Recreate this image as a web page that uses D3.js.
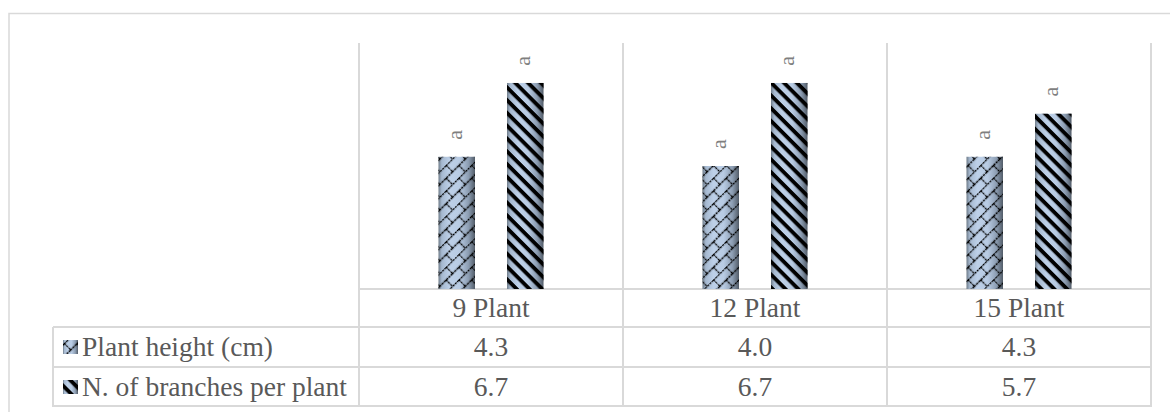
<!DOCTYPE html>
<html>
<head>
<meta charset="utf-8">
<script src="https://cdn.jsdelivr.net/npm/d3@7"></script>
<style>
  html, body { margin: 0; padding: 0; background: #fff; }
  svg { display: block; }
  svg text { font-family: "Liberation Serif", "Times New Roman", "DejaVu Serif", serif; }
</style>
</head>
<body>
<svg id="chart" width="1170" height="412"></svg>
<script>
// Planting density treatments and their measured means
const categories = ["9 Plant", "12 Plant", "15 Plant"];
const seriesNames = ["Plant height (cm)", "N. of branches per plant"];
const plantHeight = [4.3, 4.0, 4.3];
const branchesPerPlant = [6.7, 6.7, 5.7];
const valueLabels = ["4.3", "4.0", "4.3"];
const branchLabels = ["6.7", "6.7", "5.7"];
const significance = [["a", "a", "a"], ["a", "a", "a"]];
const yDomain = [0, 8];

const seriesValues = [plantHeight, branchesPerPlant];
const seriesText = [valueLabels, branchLabels];

const svg = d3.select("#chart");
const gridColor = "#d9d9d9";
const textColor = "#595959";

// Layout of plot area and data table
const plotLeft = 359, plotRight = 1151, plotTop = 43, plotBottom = 289;
const rowLines = [289, 327, 367, 406];
const legendLeft = 53;

const x0 = d3.scaleBand().domain(categories).range([plotLeft, plotRight]).paddingInner(0).paddingOuter(0);
const x1 = d3.scaleBand().domain(seriesNames).range([0, x0.bandwidth()]).paddingInner(0.467).paddingOuter(1.16);
const y = d3.scaleLinear().domain(yDomain).range([plotBottom, plotTop]);

// ---- Fills: shaded cylinder-like gradient plus black hatch overlays
const defs = svg.append("defs");
const grad = defs.append("linearGradient").attr("id", "barShade")
  .attr("x1", "0%").attr("x2", "100%").attr("y1", "0%").attr("y2", "0%");
[["0%", "#6f7c89"], ["9%", "#a5b8cf"], ["30%", "#bdd0e8"], ["58%", "#b8cbe3"], ["82%", "#8c9db2"], ["100%", "#525c68"]]
  .forEach(([o, c]) => grad.append("stop").attr("offset", o).attr("stop-color", c));

// Diagonal brick hatch
const brick = defs.append("pattern").attr("id", "brick")
  .attr("patternUnits", "userSpaceOnUse")
  .attr("width", 18).attr("height", 18)
  .attr("patternTransform", "rotate(-45)");
brick.append("path")
  .attr("d", "M0,0.5 H18 M0,9.5 H18 M0.5,0 V9 M9.5,9 V18")
  .attr("stroke", "#000").attr("stroke-width", 1.4)
  .attr("stroke-dasharray", "2.4,0.8").attr("fill", "none");

// Wide downward diagonal hatch
const stripe = defs.append("pattern").attr("id", "stripe")
  .attr("patternUnits", "userSpaceOnUse")
  .attr("width", 9.05).attr("height", 9.05)
  .attr("patternTransform", "rotate(45)");
stripe.append("rect").attr("x", 0).attr("y", 0).attr("width", 9.05).attr("height", 3.9).attr("fill", "#000");

const hatchIds = ["brick", "stripe"];

// ---- Outer chart border
svg.append("rect").attr("x", 9).attr("y", 13.5).attr("width", 1300).attr("height", 600)
  .attr("fill", "none").attr("stroke", gridColor).attr("stroke-width", 1.5);

// ---- Category gridlines (vertical cell dividers spanning plot + table)
const dividers = [plotLeft, ...categories.map(c => x0(c) + x0.bandwidth())];
svg.append("g").selectAll("line").data(dividers).join("line")
  .attr("x1", d => d).attr("x2", d => d)
  .attr("y1", plotTop).attr("y2", rowLines[3] + 1)
  .attr("stroke", gridColor).attr("stroke-width", 2);

// ---- Table horizontal lines
svg.append("g").selectAll("line").data(rowLines).join("line")
  .attr("x1", (d, i) => i === 0 ? plotLeft : legendLeft)
  .attr("x2", plotRight + 1)
  .attr("y1", d => d).attr("y2", d => d)
  .attr("stroke", gridColor).attr("stroke-width", 2);
svg.append("line").attr("x1", legendLeft).attr("x2", legendLeft)
  .attr("y1", rowLines[1]).attr("y2", rowLines[3] + 1)
  .attr("stroke", gridColor).attr("stroke-width", 2);

// ---- Bars
const barsG = svg.append("g");
seriesNames.forEach((s, si) => {
  const g = barsG.append("g");
  const data = categories.map((c, ci) => ({ c, v: seriesValues[si][ci] }));
  g.selectAll("rect.shade").data(data).join("rect").attr("class", "shade")
    .attr("x", d => x0(d.c) + x1(s)).attr("width", x1.bandwidth())
    .attr("y", d => y(d.v)).attr("height", d => y(0) - y(d.v))
    .attr("fill", "url(#barShade)");
  g.selectAll("rect.hatch").data(data).join("rect").attr("class", "hatch")
    .attr("x", d => x0(d.c) + x1(s)).attr("width", x1.bandwidth())
    .attr("y", d => y(d.v)).attr("height", d => y(0) - y(d.v))
    .attr("fill", `url(#${hatchIds[si]})`);
  // rotated significance letters above the bars
  g.selectAll("text").data(data).join("text")
    .attr("transform", d => `translate(${x0(d.c) + x1(s) + x1.bandwidth() / 2},${y(d.v) - 22}) rotate(-90)`)
    .attr("text-anchor", "middle").attr("dy", "0.23em")
    .attr("font-size", 22).attr("fill", "#7f7f7f")
    .text((d, ci) => significance[si][ci]);
});

// ---- Data table text
const tableFont = 27.5;
svg.append("g").selectAll("text").data(categories).join("text")
  .attr("x", c => x0(c) + x0.bandwidth() / 2).attr("y", 317)
  .attr("text-anchor", "middle").attr("font-size", tableFont)
  .attr("fill", textColor).text(c => c);

const rowBase = [356, 396];
seriesNames.forEach((s, si) => {
  const g = svg.append("g");
  g.selectAll("text").data(categories).join("text")
    .attr("x", c => x0(c) + x0.bandwidth() / 2).attr("y", rowBase[si])
    .attr("text-anchor", "middle").attr("font-size", tableFont)
    .attr("fill", textColor).text((c, ci) => seriesText[si][ci]);
  // legend key
  g.append("rect").attr("x", 63).attr("y", rowBase[si] - 16).attr("width", 15).attr("height", 14)
    .attr("fill", "url(#barShade)");
  g.append("rect").attr("x", 63).attr("y", rowBase[si] - 16).attr("width", 15).attr("height", 14)
    .attr("fill", `url(#${hatchIds[si]})`);
  g.append("text").attr("x", 82).attr("y", rowBase[si])
    .attr("font-size", tableFont).attr("fill", textColor).text(s);
});
</script>
</body>
</html>
